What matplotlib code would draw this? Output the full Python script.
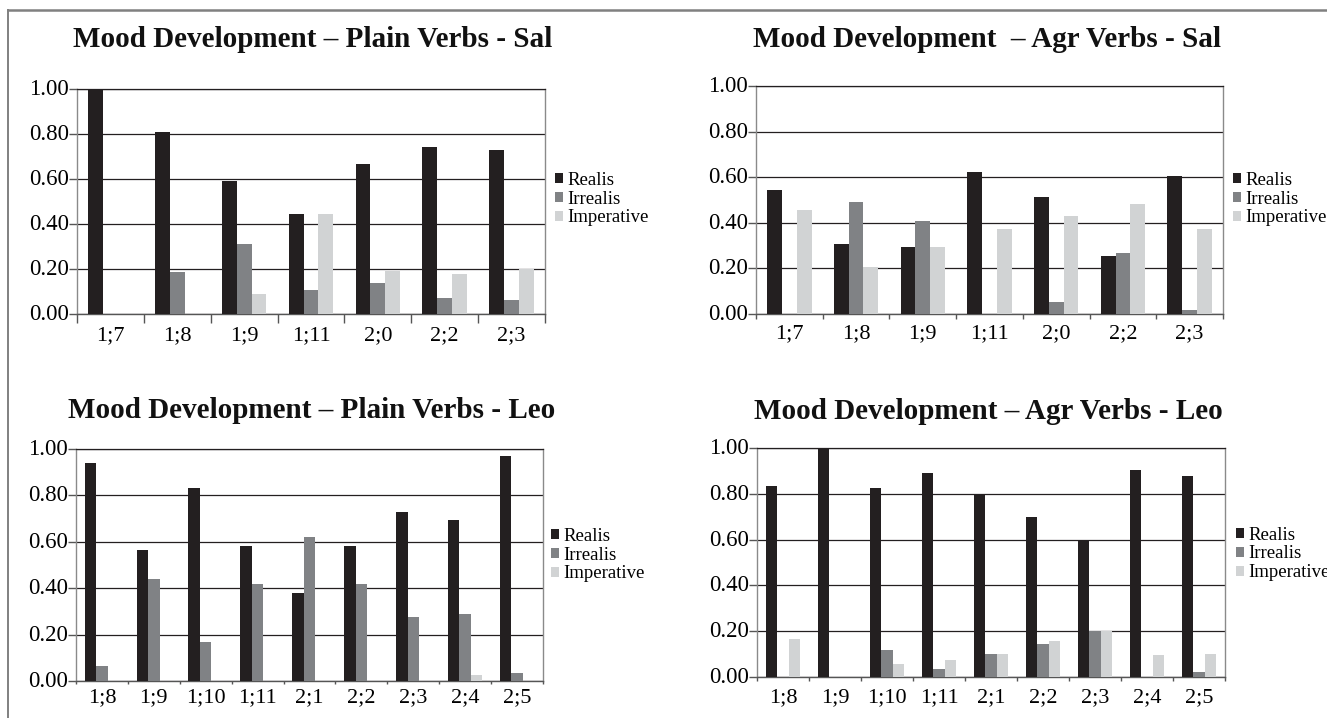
import matplotlib
matplotlib.use('Agg')
import matplotlib.pyplot as plt
import numpy as np
from matplotlib.lines import Line2D
from matplotlib.transforms import ScaledTranslation

# ---------------- data ----------------
series_names = ["Realis", "Irrealis", "Imperative"]

sal_ages = ["1;7", "1;8", "1;9", "1;11", "2;0", "2;2", "2;3"]
leo_ages = ["1;8", "1;9", "1;10", "1;11", "2;1", "2;2", "2;3", "2;4", "2;5"]

sal_plain_realis = [1.00, 0.81, 0.59, 0.444, 0.667, 0.744, 0.731]
sal_plain_irrealis = [0.0, 0.185, 0.31, 0.108, 0.136, 0.071, 0.062]
sal_plain_imperative = [0.0, 0.0, 0.09, 0.444, 0.192, 0.178, 0.20]

sal_agr_realis = [0.545, 0.307, 0.296, 0.625, 0.515, 0.253, 0.607]
sal_agr_irrealis = [0.0, 0.49, 0.409, 0.0, 0.051, 0.266, 0.019]
sal_agr_imperative = [0.454, 0.206, 0.296, 0.374, 0.43, 0.482, 0.372]

leo_plain_realis = [0.94, 0.565, 0.834, 0.584, 0.38, 0.582, 0.728, 0.695, 0.97]
leo_plain_irrealis = [0.064, 0.439, 0.168, 0.418, 0.62, 0.42, 0.274, 0.29, 0.034]
leo_plain_imperative = [0.0, 0.0, 0.0, 0.0, 0.0, 0.0, 0.0, 0.024, 0.0]

leo_agr_realis = [0.834, 1.0, 0.825, 0.889, 0.80, 0.698, 0.60, 0.904, 0.876]
leo_agr_irrealis = [0.0, 0.0, 0.117, 0.035, 0.10, 0.143, 0.20, 0.0, 0.023]
leo_agr_imperative = [0.166, 0.0, 0.057, 0.073, 0.10, 0.158, 0.20, 0.096, 0.10]

titles = ["Mood Development \u2013 Plain Verbs - Sal",
          "Mood Development  \u2013 Agr Verbs - Sal",
          "Mood Development \u2013 Plain Verbs - Leo",
          "Mood Development \u2013 Agr Verbs - Leo"]

yticks = [0.0, 0.2, 0.4, 0.6, 0.8, 1.0]
ytick_labels = ["0.00", "0.20", "0.40", "0.60", "0.80", "1.00"]

colors = ["#231f20", "#808285", "#d1d3d4"]

# ---------------- layout ----------------
W, H = 1327, 718
plt.rcParams['font.family'] = ['Liberation Serif', 'DejaVu Serif']
fig = plt.figure(figsize=(W / 100, H / 100), dpi=100)


def rect(l, t, r, b):
    return [l / W, 1 - b / H, (r - l) / W, (b - t) / H]


panels = [
    dict(rect=rect(77, 89, 545, 314), cats=sal_ages,
         vals=[sal_plain_realis, sal_plain_irrealis, sal_plain_imperative],
         title=titles[0], tx=313, ty=47, lx=555, ly=199, xtl=9, xpad=8.5),
    dict(rect=rect(756, 86, 1223, 314), cats=sal_ages,
         vals=[sal_agr_realis, sal_agr_irrealis, sal_agr_imperative],
         title=titles[1], tx=987, ty=47, lx=1233, ly=199, xtl=5, xpad=7.5),
    dict(rect=rect(76, 449, 543, 681), cats=leo_ages,
         vals=[leo_plain_realis, leo_plain_irrealis, leo_plain_imperative],
         title=titles[2], tx=312, ty=418, lx=551, ly=555, xtl=3, xpad=5.5),
    dict(rect=rect(757, 448, 1225, 677), cats=leo_ages,
         vals=[leo_agr_realis, leo_agr_irrealis, leo_agr_imperative],
         title=titles[3], tx=988, ty=419, lx=1236, ly=554, xtl=4, xpad=8),
]

bw = 0.222
for p in panels:
    ax = fig.add_axes(p['rect'])
    n = len(p['cats'])
    x = np.arange(n)
    handles = []
    for i, (vals, name, c) in enumerate(zip(p['vals'], series_names, colors)):
        h = ax.bar(x + (i - 1) * bw, vals, width=bw, color=c, label=name,
                   linewidth=0, zorder=3)
        handles.append(h)
    ax.set_xlim(-0.5, n - 0.5)
    ax.set_ylim(0, 1.0)
    ax.set_yticks(yticks)
    ax.set_yticklabels(ytick_labels, fontsize=16.5)
    ax.set_xticks(x)
    ax.set_xticklabels(p['cats'], fontsize=16)
    ax.set_xticks(np.arange(n + 1) - 0.5, minor=True)
    ax.tick_params(axis='x', which='major', length=0, pad=p['xpad'])
    ax.tick_params(axis='x', which='minor', length=p['xtl'] * 0.72,
                   width=1, color='#555555')
    ax.tick_params(axis='y', which='major', length=8 * 0.72, width=1,
                   pad=0, color='#555555')
    up = ScaledTranslation(0, 2 / 100, fig.dpi_scale_trans)
    for lab in ax.get_yticklabels():
        lab.set_transform(lab.get_transform() + up)
    ax.yaxis.grid(True, color='#231f20', linewidth=0.9)
    ax.set_axisbelow(True)
    for s in ['left', 'right']:
        ax.spines[s].set_color('#8a8a8a')
        ax.spines[s].set_linewidth(1.0)
    ax.spines['top'].set_color('#231f20')
    ax.spines['top'].set_linewidth(0.9)
    ax.spines['bottom'].set_color('#555555')
    ax.spines['bottom'].set_linewidth(1.0)
    fig.text(p['tx'] / W, 1 - p['ty'] / H, p['title'], ha='center',
             va='baseline', fontsize=21, fontweight='bold', color='#111111')
    ax.legend(handles=handles, loc='center left',
              bbox_to_anchor=(p['lx'] / W, 1 - p['ly'] / H),
              bbox_transform=fig.transFigure, frameon=False, fontsize=13.5,
              handlelength=0.45, handleheight=0.45, handletextpad=0.2,
              labelspacing=0.1, borderpad=0, borderaxespad=0)

# outer frame lines
fig.add_artist(Line2D([7.5 / W, 1.0], [1 - 9.5 / H, 1 - 9.5 / H],
                      transform=fig.transFigure, color='#808080', lw=1.8))
fig.add_artist(Line2D([7.5 / W, 7.5 / W], [0.0, 1 - 9.5 / H],
                      transform=fig.transFigure, color='#808080', lw=1.4))

fig.savefig('out.png', dpi=100)
